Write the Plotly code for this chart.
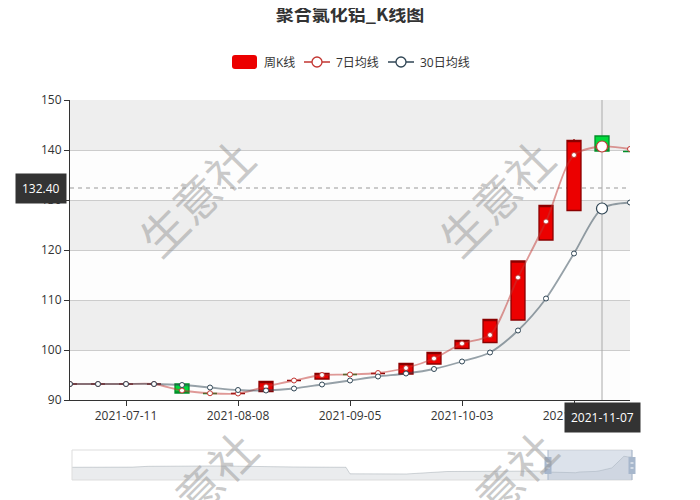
import plotly.graph_objects as go

# ---------------- data ----------------
dates = ["2021-06-27", "2021-07-04", "2021-07-11", "2021-07-18", "2021-07-25",
         "2021-08-01", "2021-08-08", "2021-08-15", "2021-08-22", "2021-08-29",
         "2021-09-05", "2021-09-12", "2021-09-19", "2021-09-26", "2021-10-03",
         "2021-10-10", "2021-10-17", "2021-10-24", "2021-10-31", "2021-11-07",
         "2021-11-14"]
opens = [93.2, 93.2, 93.2, 93.2, 93.2, 91.3, 91.3, 91.7, 93.9, 94.2, 95.1,
         95.3, 95.2, 97.2, 100.3, 101.5, 106.0, 122.0, 127.9, 142.8, 139.7]
closes = [93.2, 93.2, 93.2, 93.2, 91.4, 91.3, 91.3, 93.7, 93.9, 95.3, 95.1,
          95.3, 97.3, 99.5, 101.9, 106.1, 117.8, 128.9, 141.9, 139.8, 139.7]
highs = [93.2, 93.2, 93.2, 93.2, 93.2, 91.3, 91.3, 93.7, 93.9, 95.3, 95.1,
         95.3, 97.3, 99.5, 101.9, 106.1, 117.8, 128.9, 142.2, 142.8, 139.7]
lows = [93.2, 93.2, 93.2, 93.2, 91.4, 91.3, 91.3, 91.7, 93.9, 94.2, 95.1,
        95.3, 95.2, 97.2, 100.3, 101.5, 106.0, 122.0, 127.9, 139.8, 139.7]
ma7 = [93.2, 93.2, 93.2, 93.2, 91.9, 91.35, 91.3, 92.7, 93.9, 95.0, 95.1,
       95.4, 96.4, 98.3, 101.3, 103.0, 114.5, 125.7, 139.0, 140.7, 140.2]
ma30 = [93.2, 93.2, 93.2, 93.2, 93.0, 92.5, 92.0, 91.9, 92.3, 93.1, 93.9,
        94.7, 95.3, 96.2, 97.7, 99.5, 103.9, 110.3, 119.3, 128.3, 129.5]

tick_dates = ["2021-07-11", "2021-08-08", "2021-09-05", "2021-10-03", "2021-10-31"]

# data-zoom overview (week index, value), earlier history read from the slider
history_weeks = [0, 5, 10, 15, 19, 25, 30, 35, 40, 45, 50, 55, 60, 68, 69, 75,
                 80, 83, 89, 93, 100, 103, 108, 113, 118]
history_values = [108, 108, 108, 108.5, 111, 112, 112, 112, 111.5, 110, 109,
                  109, 108.5, 108, 88, 87.5, 87.5, 87.5, 92, 95, 95.5, 96, 97,
                  97, 96.5]

pointer_index = 19
pointer_value = 132.40

# ---------------- geometry helpers (page pixel coordinates) ----------------
OFF = 8                      # the page body adds an 8px margin
W, H = 700, 500
L, R, T, B = 70 - OFF, 632 - OFF, 100 - OFF, 482 - OFF   # figure pixels


def px_x(px):
    return (px - OFF - L) / (R - L)


def px_y(py):
    return (B - (py - OFF)) / (B - T)


UP_FILL, UP_LINE = "#ec0000", "#8A0000"
DN_FILL, DN_LINE = "#00da3c", "#008F28"
C7, C30 = "#c23531", "#2f4554"
FONT = "Open Sans, Noto Sans CJK SC, sans-serif"


# ECharts style direction rule
def rising(i):
    if closes[i] > opens[i]:
        return True
    if closes[i] < opens[i]:
        return False
    return i == 0 or closes[i - 1] <= closes[i]


up_idx = [i for i in range(len(dates)) if rising(i)]
dn_idx = [i for i in range(len(dates)) if not rising(i)]

fig = go.Figure()


def candle(idx, fill, line):
    return go.Candlestick(
        x=[dates[i] for i in idx], open=[opens[i] for i in idx],
        high=[highs[i] for i in idx], low=[lows[i] for i in idx],
        close=[closes[i] for i in idx],
        increasing=dict(fillcolor=fill, line=dict(color=line, width=1.3)),
        decreasing=dict(fillcolor=fill, line=dict(color=line, width=1.3)),
        whiskerwidth=0, hoverinfo="skip", showlegend=False)


fig.add_trace(candle(up_idx, UP_FILL, UP_LINE))
fig.add_trace(candle(dn_idx, DN_FILL, DN_LINE))

fig.add_trace(go.Scatter(
    x=dates, y=ma7, mode="lines+markers",
    line=dict(color="rgba(194,53,49,0.5)", width=1.8, shape="spline", smoothing=0.8),
    marker=dict(size=5, color="white", line=dict(color=C7, width=1)),
    hoverinfo="skip", showlegend=False))
fig.add_trace(go.Scatter(
    x=dates, y=ma30, mode="lines+markers",
    line=dict(color="rgba(47,69,84,0.5)", width=1.8, shape="spline", smoothing=0.8),
    marker=dict(size=5, color="white", line=dict(color=C30, width=1)),
    hoverinfo="skip", showlegend=False))
# hovered symbols
fig.add_trace(go.Scatter(
    x=[dates[pointer_index]], y=[ma7[pointer_index]], mode="markers",
    marker=dict(size=11, color="white", line=dict(color=C7, width=1.2)),
    hoverinfo="skip", showlegend=False))
fig.add_trace(go.Scatter(
    x=[dates[pointer_index]], y=[ma30[pointer_index]], mode="markers",
    marker=dict(size=11, color="white", line=dict(color=C30, width=1.2)),
    hoverinfo="skip", showlegend=False))

# slider overview
slider_x = history_weeks + list(range(119, 119 + len(closes)))
slider_y = history_values + closes
fig.add_trace(go.Scatter(
    x=slider_x, y=slider_y, xaxis="x2", yaxis="y2", mode="lines",
    line=dict(color="rgba(47,69,84,0.3)", width=0.7),
    fill="tozeroy", fillcolor="rgba(47,69,84,0.1)",
    hoverinfo="skip", showlegend=False))

shapes = []
# split areas
for lo in range(90, 150, 10):
    shapes.append(dict(type="rect", xref="paper", yref="y", x0=0, x1=px_x(630),
                       y0=lo, y1=lo + 10, layer="below", line=dict(width=0),
                       fillcolor="#fdfdfd" if (lo // 10) % 2 == 1 else "#eeeeee"))
# axis pointer
shapes.append(dict(type="line", xref="x", yref="y", x0=pointer_index, x1=pointer_index,
                   y0=90, y1=150, layer="between", line=dict(color="#aaaaaa", width=1)))
shapes.append(dict(type="line", xref="paper", yref="y", x0=0, x1=px_x(630),
                   y0=pointer_value, y1=pointer_value, layer="between",
                   line=dict(color="#999999", width=1, dash="4px,4px")))
# slider frame, selection and handles
shapes.append(dict(type="rect", xref="paper", yref="paper", x0=px_x(72), x1=px_x(632),
                   y0=px_y(480), y1=px_y(450), line=dict(color="#dddddd", width=1)))
shapes.append(dict(type="rect", xref="paper", yref="paper", x0=px_x(548), x1=px_x(632),
                   y0=px_y(480), y1=px_y(450), line=dict(width=0),
                   fillcolor="rgba(167,183,204,0.4)"))
for hx in (548, 632):
    shapes.append(dict(type="line", xref="paper", yref="paper", x0=px_x(hx), x1=px_x(hx),
                       y0=px_y(480), y1=px_y(450), line=dict(color="#a7b7cc", width=1)))
    shapes.append(dict(type="rect", xref="paper", yref="paper", x0=px_x(hx - 3.5),
                       x1=px_x(hx + 3.5), y0=px_y(474), y1=px_y(457),
                       line=dict(width=0), fillcolor="#a7b7cc"))
    for ly in (463, 468):
        shapes.append(dict(type="line", xref="paper", yref="paper", x0=px_x(hx - 1.5),
                           x1=px_x(hx + 1.5), y0=px_y(ly), y1=px_y(ly),
                           line=dict(color="white", width=1)))


# legend (manual)
def round_rect(x0, y0, x1, y1, r):
    X = px_x
    Y = px_y
    return (f"M {X(x0+r)},{Y(y0)} L {X(x1-r)},{Y(y0)} Q {X(x1)},{Y(y0)} {X(x1)},{Y(y0+r)} "
            f"L {X(x1)},{Y(y1-r)} Q {X(x1)},{Y(y1)} {X(x1-r)},{Y(y1)} "
            f"L {X(x0+r)},{Y(y1)} Q {X(x0)},{Y(y1)} {X(x0)},{Y(y1-r)} "
            f"L {X(x0)},{Y(y0+r)} Q {X(x0)},{Y(y0)} {X(x0+r)},{Y(y0)} Z")


LEG_Y = 62
shapes.append(dict(type="path", xref="paper", yref="paper",
                   path=round_rect(232, LEG_Y - 7, 257, LEG_Y + 7, 3),
                   fillcolor=UP_FILL, line=dict(width=0)))
for x0, col in ((304, C7), (388, C30)):
    shapes.append(dict(type="line", xref="paper", yref="paper", x0=px_x(x0), x1=px_x(x0 + 26),
                       y0=px_y(LEG_Y), y1=px_y(LEG_Y), line=dict(color=col, width=1.5)))
    shapes.append(dict(type="circle", xref="paper", yref="paper", x0=px_x(x0 + 8),
                       x1=px_x(x0 + 18), y0=px_y(LEG_Y - 5), y1=px_y(LEG_Y + 5),
                       fillcolor="white", line=dict(color=col, width=1.3)))

annotations = []
for txt, x in (("周K线", 262), ("7日均线", 334), ("30日均线", 418)):
    annotations.append(dict(text=txt, xref="paper", yref="paper", x=px_x(x), y=px_y(LEG_Y),
                            xanchor="left", yanchor="middle", showarrow=False,
                            font=dict(size=12, color="#333333", family=FONT)))
# axis pointer labels
annotations.append(dict(text=f"{pointer_value:.2f}", xref="paper", yref="y", x=0,
                        y=pointer_value, xanchor="right", yanchor="middle", xshift=-3,
                        showarrow=False, bgcolor="#333333", borderpad=6,
                        font=dict(size=12, color="white", family=FONT)))
annotations.append(dict(text=dates[pointer_index], xref="x", yref="y", x=pointer_index,
                        y=90, xanchor="center", yanchor="top", yshift=-2,
                        showarrow=False, bgcolor="#333333", borderpad=6,
                        font=dict(size=12, color="white", family=FONT)))
# watermarks
for cx, cy in ((195, 197), (495, 197), (198, 488), (498, 488)):
    annotations.append(dict(text="生意社", xref="paper", yref="paper", x=px_x(cx),
                            y=px_y(cy), xanchor="center", yanchor="middle",
                            textangle=-45, showarrow=False,
                            font=dict(size=46, color="rgba(150,150,150,0.5)",
                                      family="Noto Sans CJK SC")))

fig.update_layout(
    width=W, height=H,
    margin=dict(l=L, r=W - R, t=T, b=H - B, pad=0),
    paper_bgcolor="white", plot_bgcolor="white",
    font=dict(family=FONT, size=12, color="#333333"),
    title=dict(text="<b>聚合氯化铝_K线图</b>", x=px_x(350), xref="paper", xanchor="center",
               y=1, yref="container", yanchor="top", pad=dict(t=0, b=0, l=0, r=0),
               font=dict(size=18, color="#333333", family="Noto Sans CJK SC")),
    showlegend=False,
    boxgap=0.5, boxgroupgap=0,
    xaxis=dict(type="category", categoryorder="array", categoryarray=dates,
               domain=[0, px_x(630)], range=[0, len(dates) - 1],
               tickvals=tick_dates, ticktext=tick_dates,
               ticks="outside", ticklen=5, tickcolor="#333333",
               showline=True, linecolor="#333333", linewidth=1,
               showgrid=False, zeroline=False, fixedrange=True,
               rangeslider=dict(visible=False),
               tickfont=dict(size=12, color="#333333")),
    yaxis=dict(domain=[px_y(400), 1], range=[90, 150], dtick=10, tick0=90,
               ticks="outside", ticklen=5, tickcolor="#333333",
               showline=True, linecolor="#333333", linewidth=1,
               showgrid=True, gridcolor="#cccccc", gridwidth=1,
               zeroline=False, fixedrange=True,
               tickfont=dict(size=12, color="#333333")),
    xaxis2=dict(domain=[px_x(72), 1], range=[0, 139], visible=False, anchor="y2",
                fixedrange=True),
    yaxis2=dict(domain=[px_y(480), px_y(450)], range=[69, 161], visible=False,
                anchor="x2", fixedrange=True),
    shapes=shapes, annotations=annotations,
)

fig.write_html("out.html", config={"displayModeBar": False})
